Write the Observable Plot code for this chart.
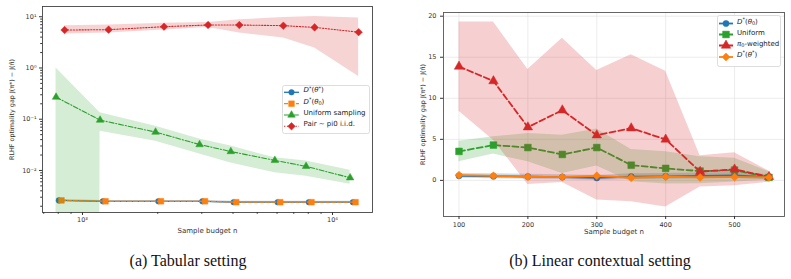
<!DOCTYPE html>
<html>
<head>
<meta charset="utf-8">
<script src="https://cdn.jsdelivr.net/npm/d3@7"></script>
<script src="https://cdn.jsdelivr.net/npm/@observablehq/plot@0.6"></script>
<style>
  body { margin: 0; background: #fff; }
  #fig { position: relative; width: 791px; height: 279px; overflow: hidden; font-family: "DejaVu Sans", sans-serif; }
  .panel { position: absolute; top: 0; }
  .legend { position: absolute; overflow: visible; }
  .caption { position: absolute; top: 252px; transform: translateX(-50%); white-space: nowrap;
             font-family: "Liberation Serif", "Times New Roman", serif; font-size: 16px; color: #111; }
</style>
</head>
<body>
<div id="fig">
  <div id="left" class="panel" style="left:0px"></div>
  <div id="right" class="panel" style="left:395px"></div>
  <div class="caption" style="left:188px">(a) Tabular setting</div>
  <div class="caption" style="left:600px">(b) Linear contextual setting</div>
</div>
<script>
// ---------- (a) Tabular setting: gap vs. sample budget (log–log) ----------
const tabBudget = [800, 1200, 2000, 3000, 4000, 6000, 8000, 12000];

const tabOptMean = [0.0026, 0.0025, 0.0025, 0.0025, 0.0024, 0.0024, 0.0024, 0.0024];   // D*(θ*)
const tabOptLo   = [0.0025, 0.0024, 0.0024, 0.0024, 0.0023, 0.0023, 0.0023, 0.0023];
const tabOptHi   = [0.0027, 0.0026, 0.0026, 0.0026, 0.0025, 0.0025, 0.0025, 0.0025];

const tabRefMean = [0.0026, 0.0025, 0.0025, 0.0025, 0.0024, 0.0024, 0.0024, 0.0024];   // D*(θ0)
const tabRefLo   = [0.00255, 0.00245, 0.00245, 0.00245, 0.00235, 0.00235, 0.00235, 0.00235];
const tabRefHi   = [0.00265, 0.00255, 0.00255, 0.00255, 0.00245, 0.00245, 0.00245, 0.00245];

const tabUniMean = [0.27, 0.096, 0.056, 0.032, 0.0234, 0.0157, 0.012, 0.0072];         // uniform sampling
const tabUniLo   = [-0.46, 0.058, 0.037, 0.021, 0.014, 0.009, 0.0077, 0.0054];
const tabUniHi   = [1.0, 0.134, 0.073, 0.041, 0.030, 0.0176, 0.0152, 0.0101];

const tabPairMean = [5.5, 5.6, 6.4, 6.9, 6.9, 6.7, 6.2, 5.0];                          // pair ~ pi0 i.i.d.
const tabPairLo   = [4.6, 4.8, 5.5, 6.2, 4.8, 3.85, 2.45, 0.68];
const tabPairHi   = [6.7, 6.9, 7.5, 7.75, 8.7, 9.7, 10.1, 9.4];

const tabMajorX = [1000, 10000];
const tabMajorY = [0.01, 0.1, 1, 10];

// ---------- (b) Linear contextual setting ----------
const linBudget = [100, 150, 200, 250, 300, 350, 400, 450, 500, 550];

const linRefMean = [0.55, 0.5, 0.45, 0.4, 0.3, 0.45, 0.5, 0.55, 0.6, 0.4];             // D*(θ0)
const linRefLo   = [0.25, 0.2, 0.15, 0.1, 0.0, 0.1, 0.15, 0.2, 0.25, 0.1];
const linRefHi   = [0.85, 0.8, 0.75, 0.7, 0.6, 0.8, 0.85, 0.9, 0.95, 0.7];

const linUniMean = [3.53, 4.3, 4.0, 3.16, 4.0, 1.85, 1.46, 1.13, 1.25, 0.36];          // uniform
const linUniLo   = [2.27, 3.2, 2.27, 0.85, 1.74, -0.17, -0.45, -0.4, -0.2, 0.0];
const linUniHi   = [4.78, 5.3, 5.7, 5.5, 6.25, 3.77, 3.48, 2.87, 2.7, 1.05];

const linPiMean = [13.87, 12.1, 6.48, 8.55, 5.5, 6.36, 4.99, 1.05, 1.34, 0.44];         // π0-weighted
const linPiLo   = [8.43, 4.9, -0.5, -0.25, -2.4, -2.6, -3.25, -0.8, -0.65, -0.22];
const linPiHi   = [19.3, 19.3, 13.5, 17.3, 13.4, 15.3, 13.3, 3.0, 3.36, 1.13];

const linOptMean = [0.64, 0.56, 0.44, 0.4, 0.56, 0.32, 0.44, 0.36, 0.4, 0.36];         // D*(θ*)
const linOptLo   = [0.54, 0.46, 0.34, 0.3, 0.46, 0.22, 0.34, 0.26, 0.3, 0.26];
const linOptHi   = [0.74, 0.66, 0.54, 0.5, 0.66, 0.42, 0.54, 0.46, 0.5, 0.46];

const linTicksX = [100, 200, 300, 400, 500];
const linTicksY = [0, 5, 10, 15, 20];

// ---------- helpers ----------
const C = { blue: "#1f77b4", orange: "#ff7f0e", green: "#2ca02c", red: "#d62728" };
const yLabel = "RLHF optimality gap J(π*) − J(π̂)";
const supMap = { "-": "⁻", "0": "⁰", "1": "¹", "2": "²", "3": "³", "4": "⁴", "5": "⁵", "6": "⁶", "7": "⁷", "8": "⁸", "9": "⁹" };
const pow10 = d => "10" + String(Math.round(Math.log10(d))).split("").map(c => supMap[c]).join("");
// non-positive band edges are clipped on a log axis, as matplotlib does
const logSafe = v => (v > 0 ? v : 1e-300);

function minorLog(lo, hi) {
  const out = [];
  for (let e = Math.floor(Math.log10(lo)); e <= Math.ceil(Math.log10(hi)); e++)
    for (let k = 2; k <= 9; k++) { const v = k * 10 ** e; if (v >= lo && v <= hi) out.push(v); }
  return out;
}

function rowsOf(xs, mean, lo, hi, shift = 1, safe = v => v) {
  return xs.map((x, i) => ({ x: x * shift, mean: mean[i], lo: safe(lo[i]), hi: safe(hi[i]) }));
}

function seriesMarks(rows, s, bandOpacity) {
  return [
    Plot.areaY(rows, { x: "x", y1: "lo", y2: "hi", fill: s.color, fillOpacity: bandOpacity, clip: true }),
    Plot.lineY(rows, { x: "x", y: "mean", stroke: s.color, strokeWidth: s.lw, strokeDasharray: s.dash, clip: true }),
    Plot.dot(rows, { x: "x", y: "mean", symbol: s.symbol, r: s.r, fill: s.color, stroke: s.color, strokeWidth: 0.5 })
  ];
}

const axisTitle = (text, opts) => Plot.text([text], { fontSize: 6.4, fill: "#333", textAnchor: "middle", ...opts });

// ---------- panel (a) ----------
const tabStyles = {
  opt:  { color: C.blue,   lw: 1.3, dash: null,            symbol: "circle",   r: 2.8 },
  ref:  { color: C.orange, lw: 1.3, dash: "4,2",           symbol: "square",   r: 3.2 },
  uni:  { color: C.green,  lw: 1.1, dash: "5,1.8,1.2,1.8", symbol: "triangle", r: 2.8 },
  pair: { color: C.red,    lw: 1.1, dash: "1.3,1.6",       symbol: "diamond2", r: 3.4 }
};
const tabX = [692, 14454], tabY = [0.00151, 15.85];

const left = Plot.plot({
  width: 390, height: 240,
  marginLeft: 42, marginRight: 18, marginTop: 6, marginBottom: 28,
  style: { fontFamily: "DejaVu Sans", fontSize: "6.5px", color: "#333", background: "transparent", overflow: "visible" },
  x: { type: "log", domain: tabX },
  y: { type: "log", domain: tabY },
  marks: [
    ...seriesMarks(rowsOf(tabBudget, tabOptMean, tabOptLo, tabOptHi, 1.005, logSafe), tabStyles.opt, 0.25),
    ...seriesMarks(rowsOf(tabBudget, tabRefMean, tabRefLo, tabRefHi, 1.03, logSafe), tabStyles.ref, 0.25),
    ...seriesMarks(rowsOf(tabBudget, tabUniMean, tabUniLo, tabUniHi, 0.98, logSafe), tabStyles.uni, 0.2),
    ...seriesMarks(rowsOf(tabBudget, tabPairMean, tabPairLo, tabPairHi, 1.06, logSafe), tabStyles.pair, 0.2),
    Plot.frame({ stroke: "#444", strokeWidth: 0.9 }),
    Plot.axisX(tabMajorX, { tickSize: 3, tickPadding: 2, tickFormat: pow10, label: null }),
    Plot.axisX(minorLog(...tabX), { tickSize: 1.8, tickFormat: () => "", label: null }),
    Plot.axisY(tabMajorY, { tickSize: 3, tickPadding: 3, tickFormat: pow10, label: null }),
    Plot.axisY(minorLog(...tabY), { tickSize: 1.8, tickFormat: () => "", label: null }),
    axisTitle("Sample budget n", { frameAnchor: "bottom", lineAnchor: "top", dy: 15.5, fontSize: 7 }),
    axisTitle(yLabel, { frameAnchor: "left", rotate: -90, dx: -31 })
  ]
});
document.getElementById("left").append(left);

// ---------- panel (b) ----------
const linStyles = {
  ref: { color: C.blue,   lw: 1.8, dash: null,  symbol: "circle",   r: 3.1 },
  uni: { color: C.green,  lw: 1.8, dash: "6,3", symbol: "square",   r: 3.8 },
  pi:  { color: C.red,    lw: 1.8, dash: "6,3", symbol: "triangle", r: 3.5 },
  opt: { color: C.orange, lw: 1.8, dash: null,  symbol: "diamond2", r: 3.6 }
};

const right = Plot.plot({
  width: 396, height: 244,
  marginLeft: 48, marginRight: 7, marginTop: 12, marginBottom: 28,
  style: { fontFamily: "DejaVu Sans", fontSize: "6.5px", color: "#333", background: "transparent", overflow: "visible" },
  x: { domain: [77.5, 572.5] },
  y: { domain: [-4.4, 20.45] },
  marks: [
    Plot.gridX(linTicksX, { stroke: "#e4e4e4", strokeOpacity: 1, strokeWidth: 0.7 }),
    Plot.gridY(linTicksY, { stroke: "#e4e4e4", strokeOpacity: 1, strokeWidth: 0.7 }),
    ...seriesMarks(rowsOf(linBudget, linRefMean, linRefLo, linRefHi), linStyles.ref, 0.25),
    ...seriesMarks(rowsOf(linBudget, linUniMean, linUniLo, linUniHi), linStyles.uni, 0.22),
    ...seriesMarks(rowsOf(linBudget, linPiMean, linPiLo, linPiHi), linStyles.pi, 0.22),
    ...seriesMarks(rowsOf(linBudget, linOptMean, linOptLo, linOptHi), linStyles.opt, 0.25),
    Plot.frame({ stroke: "#555", strokeWidth: 0.9 }),
    Plot.axisX(linTicksX, { tickSize: 3, tickPadding: 2.5, label: null }),
    Plot.axisY(linTicksY, { tickSize: 3, tickPadding: 4, label: null }),
    axisTitle("Sample budget n", { frameAnchor: "bottom", lineAnchor: "top", dy: 13, fontSize: 7 }),
    axisTitle(yLabel, { frameAnchor: "left", rotate: -90, dx: -21 })
  ]
});
document.getElementById("right").append(right);

// ---------- legends ----------
const symbolOf = { circle: d3.symbolCircle, square: d3.symbolSquare, triangle: d3.symbolTriangle, diamond2: d3.symbolDiamond2 };

function drawLegend(box, entries) {
  const svg = d3.select("#fig").append("svg").attr("class", "legend")
    .style("left", box.x + "px").style("top", box.y + "px")
    .attr("width", box.w + 2).attr("height", box.h + 2)
    .style("font-family", "DejaVu Sans").style("font-size", "7px");
  svg.append("rect").attr("x", 0.5).attr("y", 0.5).attr("width", box.w).attr("height", box.h).attr("rx", 2)
    .attr("fill", "white").attr("fill-opacity", 0.85).attr("stroke", "#d4d4d4").attr("stroke-width", 0.8);
  entries.forEach((e, i) => {
    const cy = box.rows[i];
    svg.append("line").attr("x1", box.lx0).attr("x2", box.lx1).attr("y1", cy).attr("y2", cy)
      .attr("stroke", e.s.color).attr("stroke-width", e.s.lw).attr("stroke-dasharray", e.s.dash);
    svg.append("path").attr("transform", `translate(${(box.lx0 + box.lx1) / 2},${cy})`)
      .attr("d", d3.symbol(symbolOf[e.s.symbol], Math.PI * e.s.r * e.s.r)())
      .attr("fill", e.s.color).attr("stroke", e.s.color).attr("stroke-width", 0.5);
    const t = svg.append("text").attr("x", box.tx).attr("y", cy).attr("dy", "0.35em").attr("fill", "#222");
    let shift = 0;
    e.label.forEach(([str, kind]) => {
      const sp = t.append("tspan").text(str);
      const target = kind === "sup" ? -2.6 : kind === "sub" ? 1.6 : 0;
      sp.attr("dy", target - shift); shift = target;
      if (kind === "i") sp.attr("font-style", "italic");
      if (kind === "sup" || kind === "sub") sp.attr("font-size", "5px");
    });
  });
}

const Dstar = [["D", "i"], ["*", "sup"], ["(", ""]];
drawLegend({ x: 282, y: 85, w: 87, h: 48, rows: [7.3, 18.7, 30, 41.3], lx0: 2, lx1: 17, tx: 21.5 }, [
  { s: tabStyles.opt,  label: [...Dstar, ["θ", "i"], ["*", "sup"], [")", ""]] },
  { s: tabStyles.ref,  label: [...Dstar, ["θ", "i"], ["0", "sub"], [")", ""]] },
  { s: tabStyles.uni,  label: [["Uniform sampling", ""]] },
  { s: tabStyles.pair, label: [["Pair ~ pi0 i.i.d.", ""]] }
]);
drawLegend({ x: 717, y: 15, w: 63, h: 51, rows: [8.5, 19.5, 30.5, 42], lx0: 2, lx1: 16, tx: 20 }, [
  { s: linStyles.ref, label: [...Dstar, ["θ", "i"], ["0", "sub"], [")", ""]] },
  { s: linStyles.uni, label: [["Uniform", ""]] },
  { s: linStyles.pi,  label: [["π", "i"], ["0", "sub"], ["-weighted", ""]] },
  { s: linStyles.opt, label: [...Dstar, ["θ", "i"], ["*", "sup"], [")", ""]] }
]);
</script>
</body>
</html>
